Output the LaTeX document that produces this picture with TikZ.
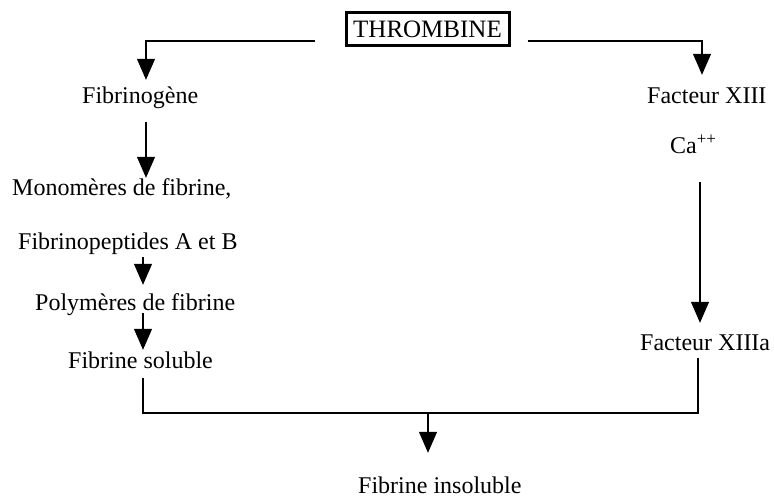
\documentclass[tikz,border=0pt]{standalone}
\usepackage{fontspec}
\setmainfont{Liberation Serif}
\usetikzlibrary{arrows.meta,calc}
\begin{document}
\begin{tikzpicture}[x=1pt,y=1pt,
  lbl/.style={inner sep=0pt,text height=17pt,text depth=5pt,anchor=base west,font=\fontsize{24}{28}\selectfont},
  ln/.style={line width=1.2pt},
  arr/.style={ln,-{Triangle[width=18pt,length=21pt]}},
  boxed/.style={draw,line width=3pt,inner sep=0pt,minimum width=163pt,minimum height=33pt,font=\fontsize{25}{28}\selectfont}]
\useasboundingbox (0,0) rectangle (774,-499);
% columns
\coordinate (cA) at (146,0);
\coordinate (cB) at (143,0);
\coordinate (cR) at (700,0);
\coordinate (cM) at (428,0);
\node[boxed] (thr) at (427.5,-29) {THROMBINE};
\node[lbl] (fgn) at (82,-103) {Fibrinogène};
\node[lbl] (mono) at (12,-195) {Monomères de fibrine,};
\node[lbl] (fpep) at (18,-249) {Fibrinopeptides A et B};
\node[lbl] (poly) at (35,-310) {Polymères de fibrine};
\node[lbl] (fsol) at (68,-368) {Fibrine soluble};
\node[lbl] (f13) at (647,-103) {Facteur XIII};
\node[lbl] (ca) at (670,-153) {Ca\raisebox{9pt}{\fontsize{17}{17}\selectfont ++}};
\node[lbl] (f13a) at (640,-350) {Facteur XIIIa};
\node[lbl] (fins) at (358,-493) {Fibrine insoluble};
% top branches
\draw[arr] ($(thr.west)+(-30,-12)$) -| ($(fgn.north -| cA)+(0,6)$);
\draw[arr] ($(thr.east)+(17,-12)$) -| ($(f13.north -| cR)+(2,11)$);
% left chain
\draw[arr] ($(fgn.south -| cA)+(0,-14)$) -- (mono.north -| cA);
\draw[arr] ($(fpep.south -| cB)+(0,-3)$) -- ($(poly.north -| cB)+(0,8)$);
\draw[arr] ($(poly.south -| cB)+(0,2)$) -- ($(fsol.north -| cB)+(0,1)$);
% right chain
\draw[arr] ($(ca.south -| cR)+(0,-24)$) -- ($(f13a.north -| cR)+(0,10)$);
% bracket
\coordinate (bot) at (428,-413);
\draw[ln] ($(fsol.south -| cB)+(0,-5)$) -- (bot -| cB) -- (bot -| 698,0) -- ($(f13a.south -| 698,0)+(0,-3)$);
\draw[arr] (bot) -- ($(fins.north -| cM)+(0,23)$);
\end{tikzpicture}
\end{document}
